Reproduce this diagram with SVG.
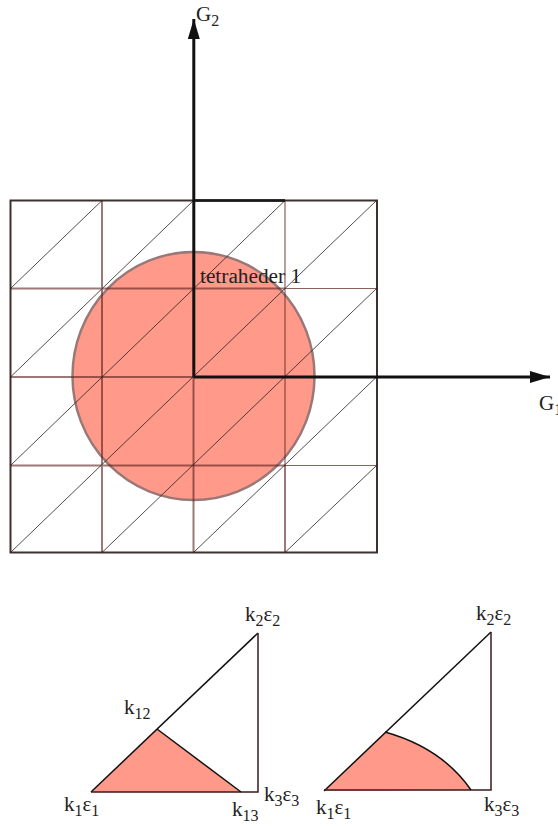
<svg xmlns="http://www.w3.org/2000/svg" width="558" height="826" viewBox="0 0 558 826">
<style>
text{font-family:"Liberation Serif","Times New Roman",serif;font-size:21px;fill:#222}
tspan.s{font-size:16px}
.grid{stroke:#5a1e1a;stroke-opacity:.6;stroke-width:2;fill:none}
.thin{stroke:#5a1e1a;stroke-opacity:.7;stroke-width:1.2;fill:none}
.diag{stroke:#2a2020;stroke-opacity:.8;stroke-width:1;fill:none}
.outer{stroke:#2a1a1a;stroke-opacity:.9;stroke-width:2;fill:none}
.axis{stroke:#111;stroke-width:3;fill:none}
.tri{stroke:#111;stroke-width:1.5;fill:none}
.side{stroke:#3a1a1a;stroke-width:1.5;fill:none}
.salmon{fill:#ff9a8a;stroke:none}
</style>
<defs>
<marker id="arrow" markerUnits="userSpaceOnUse" markerWidth="22" markerHeight="16" refX="20" refY="7" orient="auto"><path d="M0 1L20 7L0 13Z" fill="#111"/></marker>
</defs>
<g id="circle"><ellipse cx="193.500" cy="376" rx="121" ry="124" fill="#ff9a8a" stroke="#9a7878" stroke-width="2.500"/></g>
<g id="connectors">
<path class="grid" d="M102 201V552M10.500 288.500H285M10.500 465.500H285"/>
<path class="thin" d="M285 288.500H377M285 465.500H377"/>
<path class="grid" d="M10.500 377H193"/>
<path class="grid" d="M193.500 377V552"/>
<path class="thin" d="M285 201V465"/>
<path class="grid" d="M285 465V552"/>
<path class="diag" d="M10.500 288.500L102 200.500M10.500 377L193.500 200.500M10.500 465.500L285 200.500M10.500 552.500L376.500 200.500M102 552.500L376.500 288.500M193.500 552.500L376.500 377M285 552.500L376.500 465.500"/>
<rect class="outer" x="10.500" y="200.500" width="366.500" height="352"/>
<path class="axis" d="M193.500 200.500H285" stroke-opacity=".8"/>
<path class="axis" d="M193.800 377V19" marker-end="url(#arrow)"/>
<path class="axis" d="M193.500 377H550" marker-end="url(#arrow)"/>
</g>
<g id="axis-labels">
<text x="196" y="21">G<tspan class="s" dy="5">2</tspan></text>
<text x="539" y="410">G<tspan class="s" dy="5">1</tspan></text>
<text x="200" y="283" style="font-size:21.300px">tetraheder 1</text>
</g>
<g id="tetrahedron-planar">
<path class="salmon" d="M91 792L157 729L241 792Z"/>
<path class="tri" d="M91 792L258 633"/>
<path class="side" d="M258 633V792H91"/>
<path class="tri" d="M157 729L241 792"/>
<text x="245" y="621">k<tspan class="s" dy="5">2</tspan><tspan dy="-5">ε</tspan><tspan class="s" dy="5">2</tspan></text>
<text x="124" y="714">k<tspan class="s" dy="5">12</tspan></text>
<text x="64" y="811">k<tspan class="s" dy="5">1</tspan><tspan dy="-5">ε</tspan><tspan class="s" dy="5">1</tspan></text>
<text x="232" y="816">k<tspan class="s" dy="5">13</tspan></text>
<text x="264" y="801">k<tspan class="s" dy="5">3</tspan><tspan dy="-5">ε</tspan><tspan class="s" dy="5">3</tspan></text>
</g>
<g id="tetrahedron-curved">
<path class="salmon" d="M324 791L385 732Q442 748 471 790Z"/>
<path class="tri" d="M324 791L491 632"/>
<path class="side" d="M491 632V790H324"/>
<path class="tri" d="M385 732Q442 748 471 790"/>
<text x="476" y="620">k<tspan class="s" dy="5">2</tspan><tspan dy="-5">ε</tspan><tspan class="s" dy="5">2</tspan></text>
<text x="316" y="814">k<tspan class="s" dy="5">1</tspan><tspan dy="-5">ε</tspan><tspan class="s" dy="5">1</tspan></text>
<text x="484" y="811">k<tspan class="s" dy="5">3</tspan><tspan dy="-5">ε</tspan><tspan class="s" dy="5">3</tspan></text>
</g>
</svg>
